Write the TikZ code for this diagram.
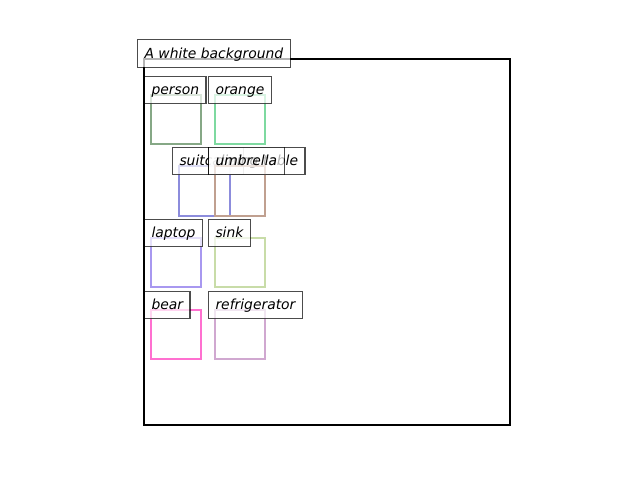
\documentclass[tikz,border=0pt]{standalone}
\usepackage{fontspec}
\setmainfont{DejaVu Sans}
\begin{document}
\begin{tikzpicture}[x=0.72pt,y=-0.72pt,
  tag/.style={anchor=west, draw=black, draw opacity=0.7, fill=white, fill opacity=0.7,
    text opacity=1, line width=0.8pt, inner xsep=5pt, inner ysep=0pt,
    minimum height=20pt, text height=8.3pt, text depth=1.7pt,
    font=\fontsize{10pt}{12pt}\selectfont\itshape},
  objbox/.style={line width=2pt},
  frame/.style={line width=1.6pt, draw=black}]
\definecolor{cPerson}{HTML}{86A886}
\definecolor{cOrange}{HTML}{7ED9A0}
\definecolor{cSuitcase}{HTML}{8C8CDC}
\definecolor{cTable}{HTML}{B89C94}
\definecolor{cUmbrella}{HTML}{C0A090}
\definecolor{cLaptop}{HTML}{A898F0}
\definecolor{cSink}{HTML}{C8DCA8}
\definecolor{cBear}{HTML}{FF70D0}
\definecolor{cFridge}{HTML}{D0A8D0}

\useasboundingbox (0,0) rectangle (640,480);

% plot frame
\draw[frame] (144,59) rectangle (510,425);

% objects: box first, then its label
\draw[objbox, cPerson] (151,95) rectangle (201,144);
\node[tag] (lperson) at (144,90) {person};

\draw[objbox, cOrange] (215,95) rectangle (265,144);
\node[tag] (lorange) at (208,90) {orange};

\draw[objbox, cSuitcase] (179,166) rectangle (230,216);
\node[tag] (lsuitcase) at (172,161) {suitcase};

\draw[objbox, cTable] (215,166) rectangle (265,216);
\node[tag] (ltable) at (208,161) {dining table};

\draw[objbox, cUmbrella] (215,166) rectangle (265,216);
\node[tag] (lumbrella) at (208,161) {umbrella};

\draw[objbox, cLaptop] (151,238) rectangle (201,287);
\node[tag] (llaptop) at (144,233) {laptop};

\draw[objbox, cSink] (215,238) rectangle (265,287);
\node[tag] (lsink) at (208,233) {sink};

\draw[objbox, cBear] (151,310) rectangle (201,359);
\node[tag] (lbear) at (144,305) {bear};

\draw[objbox, cFridge] (215,310) rectangle (265,359);
\node[tag] (lfridge) at (208,305) {refrigerator};

% caption over the frame
\node[tag] (caption) at (137,53.5) {A white background};
\end{tikzpicture}
\end{document}
